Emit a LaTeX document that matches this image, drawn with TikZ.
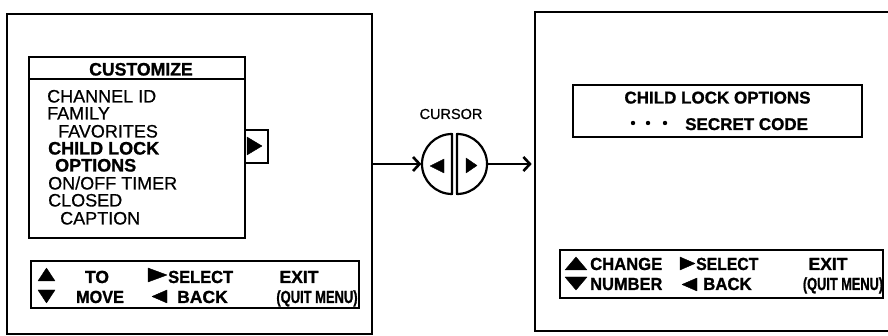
\documentclass[tikz,border=0pt]{standalone}
\usepackage{fontspec}
\setmainfont{Liberation Sans}[BoldFeatures={FakeBold=1.2}]
\newfontfamily\itemfont{Liberation Sans}[FakeBold=0.6]
\usetikzlibrary{arrows.meta}
\begin{document}
\begin{tikzpicture}[x=1pt,y=-1pt,
  screen/.style={draw, line width=2.6pt, rectangle, inner sep=0pt},
  panel/.style={draw, line width=1.1pt, rectangle, inner sep=0pt},
  thin/.style={line width=1.1pt},
  item/.style={anchor=base west, inner sep=0pt, font=\fontsize{18}{18}\itemfont},
  itemb/.style={anchor=base west, inner sep=0pt, font=\fontsize{18}{18}\selectfont\bfseries},
  key/.style={inner sep=0pt, font=\fontsize{17.5}{17.5}\selectfont\bfseries},
  tri/.style={fill=black, draw=black, line width=0.4pt, line join=round},
  half/.style={draw, line width=2.2pt, line join=round},
  arr/.style={line width=2.6pt, -{Straight Barb[length=6.5pt,width=14pt]}},
  lbl/.style={inner sep=0pt, font=\fontsize{14.5}{14.5}\itemfont}
]
\useasboundingbox (0,0) rectangle (888,336);

% ---------- left screen ----------
\node[screen, minimum width=365pt, minimum height=320pt] (scrL) at (189.5,174) {};
\node[panel, minimum width=216pt, minimum height=181pt] (menu) at (137,147.5) {};
\draw[thin] (29,79) -- (245,79);
\node[itemb, anchor=base] (title) at (141,75.5) {\scalebox{0.98}[1]{CUSTOMIZE}};
\node[item] (i1) at (47,102.5) {CHANNEL ID};
\node[item] (i2) at (47,119.5) {FAMILY};
\node[item] (i3) at (58,137.5) {FAVORITES};
\node[itemb] (i4) at (48,154.5) {CHILD LOCK};
\node[itemb] (i5) at (55,171.5) {OPTIONS};
\node[item] (i6) at (48,189.5) {ON/OFF TIMER};
\node[item] (i7) at (48,206.5) {CLOSED};
\node[item] (i8) at (60,224.5) {CAPTION};
\draw[thin] (245,130) rectangle (268,163);
\fill[tri] (247,137) -- (262,146) -- (247,155) -- cycle;

\node[panel, minimum width=328pt, minimum height=47pt] (barL) at (195,284.5) {};
\fill[tri] (38,281) -- (55,281) -- (46.5,268) -- cycle;
\fill[tri] (38,290) -- (55,290) -- (46.5,303) -- cycle;
\node[key, anchor=base] (lto) at (97,283) {TO};
\node[key, anchor=base] (lmove) at (100,303) {\scalebox{0.93}[1]{MOVE}};
\fill[tri] (148,268) -- (167,275) -- (148,282) -- cycle;
\node[key, anchor=base west] (lsel) at (168,283) {\scalebox{0.94}[1]{SELECT}};
\fill[tri] (167,290) -- (152,296.5) -- (167,303) -- cycle;
\node[key, anchor=base west] (lback) at (177,303) {BACK};
\node[key, anchor=base] (lexit) at (299,283) {EXIT};
\node[key, anchor=base] (lquit) at (317,303) {\scalebox{0.74}[1]{(QUIT MENU)}};

% ---------- cursor ----------
\node[circle, minimum size=66pt, inner sep=0pt] (cur) at (454.5,164) {};
\node[lbl, anchor=base] (curlbl) at (451,119) {CURSOR};
\draw[half] (452,134) arc[start angle=270, end angle=90, radius=30] -- cycle;
\draw[half] (457,134) arc[start angle=-90, end angle=90, radius=30] -- cycle;
\fill[tri] (444,159) -- (430,166) -- (444,173) -- cycle;
\fill[tri] (466,158) -- (477,165.5) -- (466,173) -- cycle;

% ---------- right screen ----------
\node[screen, minimum width=370pt, minimum height=319pt] (scrR) at (720,171.5) {};
\node[panel, minimum width=289pt, minimum height=52pt] (opt) at (717.5,111) {};
\node[key, anchor=base, font=\fontsize{17}{17}\selectfont\bfseries] (otitle) at (717.5,103.5) {CHILD LOCK OPTIONS};
\fill (633,123) circle[radius=2.2];
\fill (648,123) circle[radius=2.2];
\fill (665,123) circle[radius=2.2];
\node[key, anchor=base west, font=\fontsize{17}{17}\selectfont\bfseries] (code) at (685,130) {SECRET CODE};

\node[panel, minimum width=323pt, minimum height=48pt] (barR) at (721.5,274) {};
\fill[tri] (565,270) -- (587,270) -- (576,257) -- cycle;
\fill[tri] (565,277) -- (587,277) -- (576,290) -- cycle;
\node[key, anchor=base west] (rchg) at (590,270) {\scalebox{0.95}[1]{CHANGE}};
\node[key, anchor=base west] (rnum) at (590,290) {\scalebox{0.94}[1]{NUMBER}};
\fill[tri] (680,257) -- (695,263.5) -- (680,270) -- cycle;
\node[key, anchor=base west] (rsel) at (696,270) {\scalebox{0.9}[1]{SELECT}};
\fill[tri] (697,278) -- (682,284.5) -- (697,291) -- cycle;
\node[key, anchor=base west] (rback) at (703,290) {\scalebox{0.96}[1]{BACK}};
\node[key, anchor=base] (rexit) at (828,270) {EXIT};
\node[key, anchor=base] (rquit) at (843,290) {\scalebox{0.73}[1]{(QUIT MENU)}};

% ---------- connectors ----------
\draw[arr] (scrL.east |- cur.west) -- (cur.west);
\draw[arr, shorten >=2pt] (cur.east) -- (scrR.west |- cur.east);
\end{tikzpicture}
\end{document}
